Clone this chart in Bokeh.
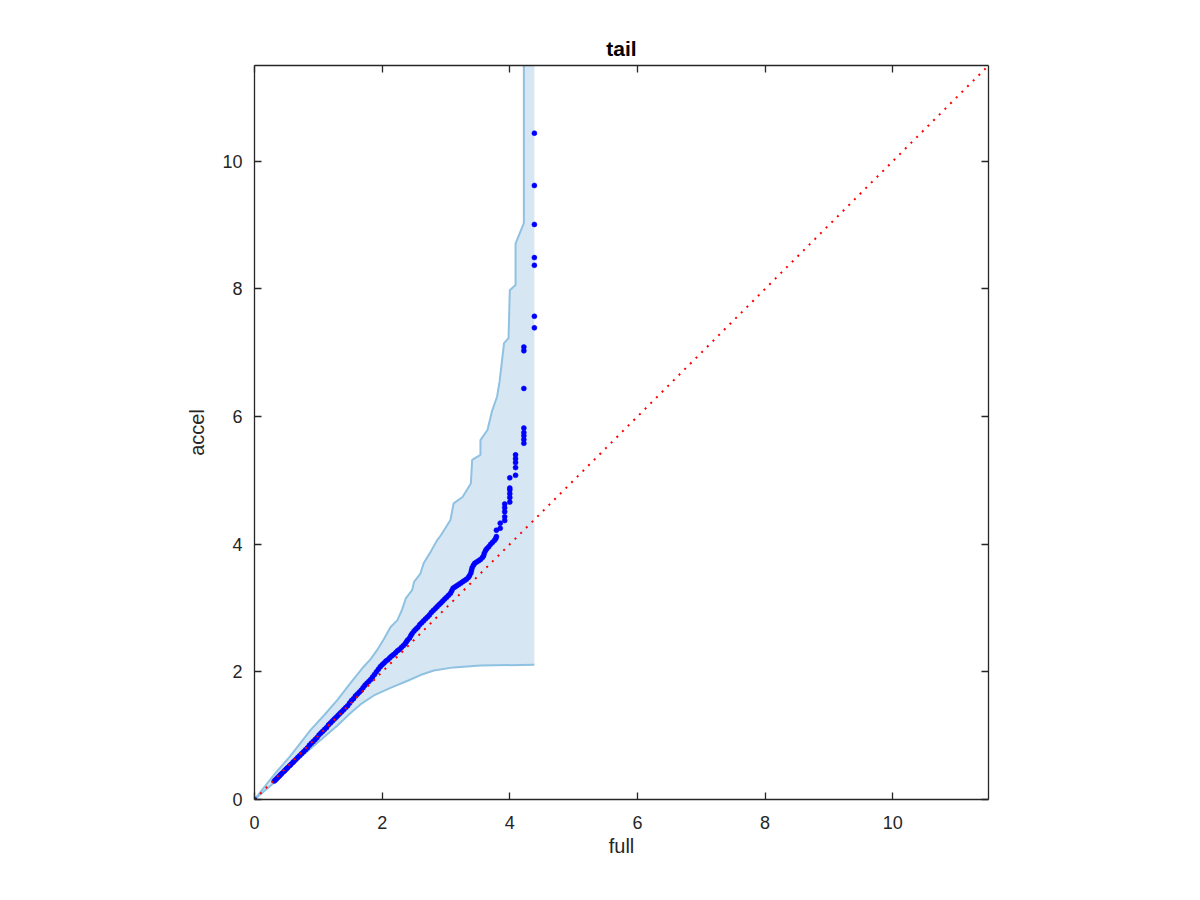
from bokeh.plotting import figure
from bokeh.models import LinearAxis, Range1d, FixedTicker, CustomJSTickFormatter
from bokeh.embed import file_html
from bokeh.resources import INLINE

# ---- data ----
ticks = [0, 2, 4, 6, 8, 10]
axis_max = 11.5

full_q = [0.0,
    0.31, 0.33, 0.35, 0.37, 0.39, 0.41, 0.43, 0.46, 0.48, 0.50, 0.52, 0.55, 0.57, 0.60, 0.62,
    0.65, 0.68, 0.71, 0.74, 0.77, 0.80, 0.83, 0.86, 0.89, 0.92, 0.95, 0.98, 1.01,
    1.04, 1.07, 1.10, 1.13, 1.16, 1.19, 1.22, 1.25, 1.28, 1.31, 1.34, 1.37, 1.40, 1.43, 1.46,
    1.49, 1.52, 1.55, 1.58, 1.61, 1.64, 1.67, 1.70, 1.73, 1.76, 1.79, 1.82, 1.85, 1.88, 1.91,
    1.94, 1.97, 2.00,
    2.03, 2.06, 2.09, 2.12, 2.15, 2.18, 2.21, 2.24, 2.27, 2.30, 2.33, 2.36, 2.38, 2.40, 2.43,
    2.45, 2.47, 2.50, 2.53, 2.56, 2.59, 2.62, 2.65, 2.68, 2.71, 2.74, 2.77, 2.80, 2.83, 2.86,
    2.89, 2.92, 2.95, 2.98, 3.01,
    3.04, 3.07, 3.09, 3.11, 3.14, 3.17, 3.20, 3.23, 3.26, 3.29, 3.32, 3.35, 3.37, 3.39, 3.40,
    3.41, 3.43, 3.45, 3.48, 3.51, 3.54, 3.57, 3.59, 3.60, 3.62, 3.64, 3.67, 3.70, 3.73, 3.76,
    3.78, 3.79,
    3.79, 3.85, 3.85, 3.92, 3.92, 3.92, 3.92, 3.92, 4.00, 4.00, 4.00, 4.00, 4.00, 4.00,
    4.09, 4.09, 4.09, 4.09, 4.09, 4.22, 4.22, 4.22, 4.22, 4.22, 4.22, 4.22, 4.22,
    4.385, 4.385, 4.385, 4.385, 4.385, 4.385, 4.385]
accel_q = [0.0,
    0.29, 0.31, 0.33, 0.35, 0.37, 0.39, 0.41, 0.44, 0.46, 0.48, 0.50, 0.53, 0.55, 0.58, 0.60,
    0.63, 0.66, 0.69, 0.72, 0.75, 0.78, 0.81, 0.85, 0.88, 0.91, 0.94, 0.97, 1.01,
    1.04, 1.07, 1.10, 1.13, 1.17, 1.20, 1.23, 1.26, 1.29, 1.32, 1.35, 1.38, 1.41, 1.44, 1.47,
    1.51, 1.55, 1.58, 1.62, 1.65, 1.68, 1.71, 1.75, 1.79, 1.82, 1.85, 1.88, 1.92, 1.96, 2.00,
    2.04, 2.08, 2.11,
    2.14, 2.17, 2.19, 2.22, 2.25, 2.27, 2.30, 2.33, 2.35, 2.38, 2.41, 2.44, 2.47, 2.50, 2.53,
    2.57, 2.60, 2.64, 2.67, 2.70, 2.74, 2.77, 2.80, 2.83, 2.86, 2.89, 2.93, 2.96, 2.99, 3.02,
    3.05, 3.08, 3.11, 3.14, 3.17,
    3.20, 3.23, 3.27, 3.31, 3.33, 3.35, 3.37, 3.39, 3.41, 3.43, 3.45, 3.48, 3.51, 3.55, 3.59,
    3.63, 3.67, 3.70, 3.72, 3.74, 3.76, 3.79, 3.82, 3.86, 3.90, 3.93, 3.96, 4.00, 4.03, 4.06,
    4.09, 4.12,
    4.22, 4.25, 4.33, 4.37, 4.43, 4.51, 4.57, 4.63, 4.66, 4.73, 4.79, 4.85, 4.88, 5.04,
    5.08, 5.20, 5.28, 5.34, 5.40, 5.58, 5.64, 5.70, 5.75, 5.82, 6.44, 7.03, 7.09,
    7.39, 7.57, 8.37, 8.49, 9.01, 9.62, 10.44]

upper_x = [0.0, 0.30, 0.56, 0.67, 0.88, 1.09, 1.30, 1.50, 1.71, 1.82, 1.92, 2.03, 2.13, 2.24,
           2.31, 2.37, 2.47, 2.50, 2.60, 2.65, 2.76, 2.86, 2.92, 3.07, 3.12, 3.26, 3.39, 3.41,
           3.54, 3.54, 3.65, 3.72, 3.80, 3.84, 3.91, 3.98, 4.00, 4.09, 4.09, 4.22, 4.22]
upper_y = [0.0, 0.38, 0.68, 0.82, 1.09, 1.32, 1.56, 1.82, 2.08, 2.20, 2.34, 2.52, 2.70, 2.81,
           2.97, 3.15, 3.28, 3.41, 3.54, 3.70, 3.88, 4.06, 4.14, 4.38, 4.64, 4.74, 4.95, 5.32,
           5.40, 5.63, 5.79, 6.08, 6.31, 6.55, 7.15, 7.23, 7.98, 8.06, 8.71, 9.03, 12.0]
lower_x = [0.0, 0.30, 0.67, 0.88, 1.09, 1.30, 1.50, 1.66, 1.87, 2.13, 2.40, 2.60, 2.81, 3.12,
           3.54, 4.385]
lower_y = [0.0, 0.26, 0.62, 0.80, 0.98, 1.16, 1.35, 1.49, 1.63, 1.75, 1.86, 1.95, 2.02, 2.07,
           2.10, 2.11]
band_right = 4.385
band_top = 12.0

ref_line = [0.0, axis_max]

# ---- figure ----
FONT = "Liberation Sans"
AX = "#262626"

p = figure(width=1192, height=880, output_backend="svg", toolbar_location=None,
           x_range=Range1d(0, axis_max), y_range=Range1d(0, axis_max),
           title="tail", min_border_left=254, min_border_right=204,
           min_border_top=65, min_border_bottom=81)
p.background_fill_color = "white"
p.border_fill_color = "white"
p.outline_line_color = None
p.grid.visible = False

p.title.align = "center"
p.title.text_font = FONT
p.title.text_font_size = "21px"
p.title.text_font_style = "bold"
p.title.text_color = "black"
p.title.standoff = 11

# band
band_x = upper_x + [band_right, band_right] + lower_x[::-1]
band_y = upper_y + [band_top, lower_y[-1]] + lower_y[::-1]
p.patch(band_x, band_y, fill_color="#d6e7f3", line_color=None)
p.line(upper_x, upper_y, line_color="#8fc1e2", line_width=2)
p.line(lower_x, lower_y, line_color="#8fc1e2", line_width=2)

# points
p.scatter(full_q, accel_q, marker="circle", size=5, fill_color="#0000ff",
          line_color="#0000ff", line_width=0.5)

# reference line
p.line(ref_line, ref_line, line_color="#ff0000", line_width=2, line_dash="2 6")

def style_axis(ax, show_labels):
    ax.ticker = FixedTicker(ticks=ticks)
    ax.axis_line_color = AX
    ax.axis_line_width = 1.3
    ax.major_tick_line_color = AX
    ax.major_tick_line_width = 1.3
    ax.major_tick_in = 7
    ax.major_tick_out = 0
    ax.minor_tick_line_color = None
    ax.major_label_text_font = FONT
    ax.major_label_text_font_size = "18px"
    ax.major_label_text_color = AX
    ax.axis_label_text_font = FONT
    ax.axis_label_text_font_size = "20px"
    ax.axis_label_text_font_style = "normal"
    ax.axis_label_text_color = AX
    if not show_labels:
        ax.formatter = CustomJSTickFormatter(code="return '';")

xa = p.xaxis[0]
ya = p.yaxis[0]
style_axis(xa, True)
style_axis(ya, True)
xa.axis_label = "full"
ya.axis_label = "accel"
xa.major_label_standoff = 16
ya.major_label_standoff = 12
xa.axis_label_standoff = 3
ya.axis_label_standoff = 11

top = LinearAxis()
right = LinearAxis()
style_axis(top, False)
style_axis(right, False)
p.add_layout(top, "above")
p.add_layout(right, "right")

open("out.html", "w").write(file_html(p, INLINE))
